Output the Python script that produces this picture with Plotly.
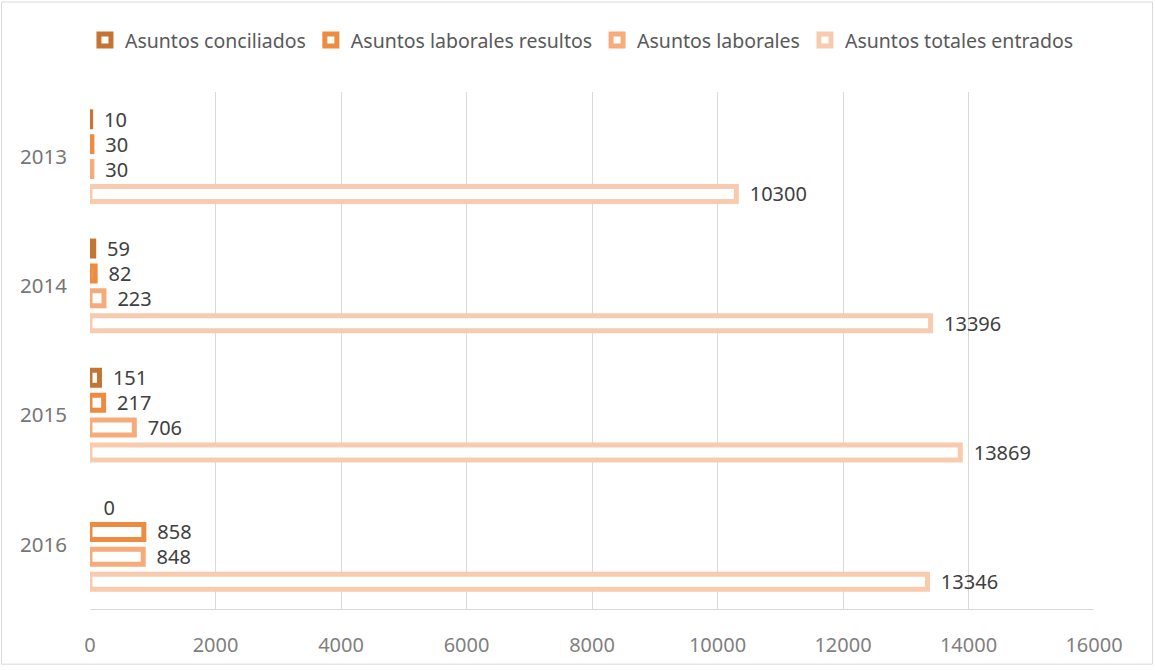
import plotly.graph_objects as go

years = ["2013", "2014", "2015", "2016"]
conciliados = [10, 59, 151, 0]
laborales_resultos = [30, 82, 217, 858]
laborales = [30, 223, 706, 848]
totales = [10300, 13396, 13869, 13346]

series = [
    ("Asuntos conciliados", conciliados, "#C47533"),
    ("Asuntos laborales resultos", laborales_resultos, "#ED8C40"),
    ("Asuntos laborales", laborales, "#F5AC7A"),
    ("Asuntos totales entrados", totales, "#F8CBAF"),
]

FONT = "Noto Sans"
fig = go.Figure()
for name, vals, col in series:
    fig.add_trace(go.Bar(
        y=years, x=vals, name=name, orientation="h",
        marker=dict(color="white",
                    line=dict(color=col, width=[5 if v > 0 else 0 for v in vals])),
        text=[f"\u00a0\u00a0{v}" for v in vals],
        textposition="outside", cliponaxis=False, constraintext="none",
        textfont=dict(family=FONT, size=20, color="#404040"),
    ))

# outer chart border (paper coords relative to plot area)
l, r, t, b = 90, 61, 92, 58
W, H = 1155, 670
pw, ph = W - l - r, H - t - b
def px(x): return (x - l) / pw
def py(y): return (H - b - y) / ph
fig.add_shape(type="rect", xref="paper", yref="paper",
              x0=px(1.5), x1=px(1152.5), y0=py(667.5), y1=py(1.5),
              line=dict(color="#D9D9D9", width=1), layer="below")

fig.update_layout(
    width=W, height=H,
    margin=dict(l=l, r=r, t=t, b=b),
    paper_bgcolor="white", plot_bgcolor="white",
    barmode="group", bargap=0.23, bargroupgap=0.4,
    font=dict(family=FONT, size=20, color="#595959"),
    legend=dict(orientation="h", x=0.49, xanchor="center", y=py(40), yanchor="middle",
                font=dict(family=FONT, size=19.5, color="#595959"),
                traceorder="normal", itemwidth=30, tracegroupgap=0),
    xaxis=dict(range=[0, 16000], dtick=2000, tickformat="d",
               showgrid=True, gridcolor="#D9D9D9", gridwidth=1,
               zeroline=False, showline=True, linecolor="#D9D9D9",
               tickfont=dict(family=FONT, size=20, color="#7F7F7F"),
               ticklabelstandoff=18, mirror=False),
    yaxis=dict(autorange="reversed", showgrid=False, zeroline=False,
               showline=False,
               tickfont=dict(family=FONT, size=20.5, color="#767676"),
               ticklabelstandoff=22),
)
fig.write_html("out.html")
